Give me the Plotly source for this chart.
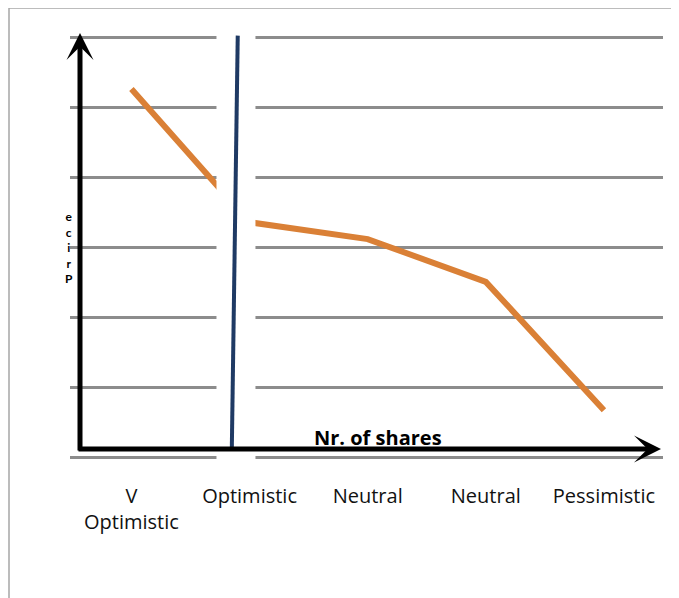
import plotly.graph_objects as go

# ---- data ----
categories = ["V<br>Optimistic", "Optimistic", "Neutral", "Neutral", "Pessimistic"]
cat_pos = [0, 1, 2, 3, 4]
price = [5.26, 3.36, 3.12, 2.51, 0.68]          # orange series
supply_x = [0.85, 0.90]                          # blue near-vertical line
supply_y = [0.15, 6.02]
box_x = [0.72, 1.05, 1.05, 0.72, 0.72]           # white text-box area
box_y = [-0.5, -0.5, 6.5, 6.5, -0.5]
y_ticks = [0, 1, 2, 3, 4, 5, 6]

W, H = 679, 598
OFF = 8  # page body margin
L, R, T, B = 62, 24, 22, 141
pw, ph = W - L - R, H - T - B

def px(x):
    return (x - OFF - L) / pw

def py(y):
    return (H - B - (y - OFF)) / ph

fig = go.Figure()
fig.add_trace(go.Scatter(x=cat_pos, y=price, mode="lines",
                         line=dict(color="#DA8036", width=6), hoverinfo="skip"))
fig.add_trace(go.Scatter(x=box_x, y=box_y, mode="lines", fill="toself",
                         fillcolor="white", line=dict(width=0, color="white"),
                         hoverinfo="skip"))
fig.add_trace(go.Scatter(x=supply_x, y=supply_y, mode="lines",
                         line=dict(color="#1F3A64", width=4), hoverinfo="skip"))

fig.update_layout(
    width=W, height=H, showlegend=False,
    margin=dict(l=L, r=R, t=T, b=B, pad=0),
    paper_bgcolor="white", plot_bgcolor="white",
    xaxis=dict(range=[-0.52, 4.5], tickvals=cat_pos, ticktext=categories,
               showgrid=False, zeroline=False, showline=False, ticks="",
               tickfont=dict(family="Open Sans", size=20, color="#111"),
               ticklabelstandoff=17, fixedrange=True),
    yaxis=dict(range=[-0.1, 6.1], tickvals=y_ticks, showticklabels=False,
               showgrid=True, gridcolor="#8C8C8C", gridwidth=3,
               zeroline=False, showline=False, ticks="", fixedrange=True),
    shapes=[dict(type="rect", xref="paper", yref="paper",
                 x0=px(9), x1=px(720), y0=py(640), y1=py(8),
                 line=dict(color="#A6A6A6", width=1.5), fillcolor="rgba(0,0,0,0)",
                 layer="below")],
)

ann = []
# axis arrows
ann.append(dict(xref="paper", yref="paper", x=px(80), y=py(33), ax=0, ay=452 - 33,
                text="", showarrow=True, arrowhead=3, arrowsize=0.9, arrowwidth=5,
                arrowcolor="black", standoff=0))
ann.append(dict(xref="paper", yref="paper", x=px(661), y=py(449), ax=77 - 661, ay=0,
                text="", showarrow=True, arrowhead=3, arrowsize=0.9, arrowwidth=5,
                arrowcolor="black", standoff=0))
# x title
ann.append(dict(xref="paper", yref="paper", x=px(378), y=py(437), text="<b>Nr. of shares</b>",
                showarrow=False, font=dict(family="Open Sans", size=20, color="black"),
                xanchor="center", yanchor="middle"))
# stacked y label
ann.append(dict(xref="paper", yref="paper", x=px(69), y=py(248),
                text="<b>e<br>c<br>i<br>r<br>P</b>",
                showarrow=False, font=dict(family="Lato", size=12, color="black"),
                xanchor="center", yanchor="middle"))
fig.update_layout(annotations=ann)

fig.write_html("out.html")
